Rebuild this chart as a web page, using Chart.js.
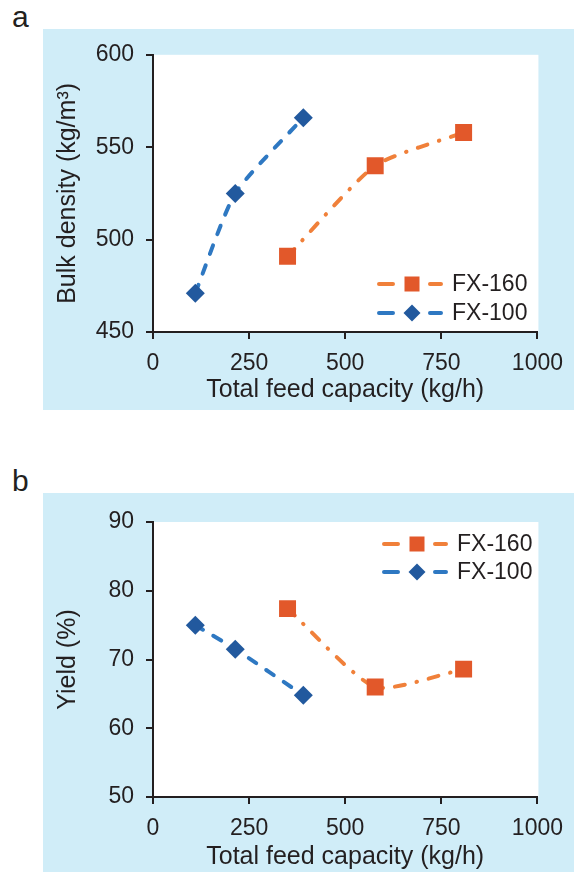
<!DOCTYPE html>
<html>
<head>
<meta charset="utf-8">
<script src="https://cdn.jsdelivr.net/npm/chart.js@4"></script>
<style>
  body { margin: 0; background: #fff; width: 574px; height: 872px; position: relative; overflow: hidden;
         font-family: "Liberation Sans", Arial, sans-serif; color: #231F20; }
  .tag { position: absolute; left: 12px; font-size: 30px; line-height: 1; }
  .panel { position: absolute; left: 43px; width: 531px; background: #D0EDF8; }
</style>
</head>
<body>
<div class="tag" style="top:2px">a</div>
<div class="panel" style="top:29px;height:381px"><canvas id="chartA" width="531" height="381"></canvas></div>
<div class="tag" style="top:466px">b</div>
<div class="panel" style="top:493px;height:379px"><canvas id="chartB" width="531" height="379"></canvas></div>
<script>
// ====================== DATA ======================
const fx160Feed = [350, 578, 808];
const fx160Density = [491, 540, 558];
const fx160Yield = [77.4, 66.0, 68.6];

const fx100Feed = [110, 214, 391];
const fx100Density = [471, 525, 566];
const fx100Yield = [75.0, 71.5, 64.8];

const xTitle = "Total feed capacity (kg/h)";

// ====================== STYLE ======================
const INK = "#231F20";
const FONT = "'Liberation Sans', Arial, sans-serif";
const ORANGE_LINE = "#F0803A", ORANGE_MARK = "#E2582A";
const BLUE_LINE = "#2E78C2", BLUE_MARK = "#22599E";

function pts(xs, ys) {
  return xs.map((x, i) => ({ x: x, y: ys[i] }));
}

function makeSets(ys160, ys100) {
  return [
    {
      label: "FX-160",
      data: pts(fx160Feed, ys160),
      showLine: true,
      borderColor: ORANGE_LINE,
      borderWidth: 4,
      borderDash: [10, 12, 0.5, 12],
      borderCapStyle: "round",
      tension: 0.2,
      pointStyle: "rect",
      pointRadius: 12,
      pointBackgroundColor: ORANGE_MARK,
      pointBorderWidth: 0
    },
    {
      label: "FX-100",
      data: pts(fx100Feed, ys100),
      showLine: true,
      borderColor: BLUE_LINE,
      borderWidth: 4,
      borderDash: [9, 12],
      borderCapStyle: "round",
      tension: 0.2,
      pointStyle: "rectRot",
      pointRadius: 9.5,
      pointBackgroundColor: BLUE_MARK,
      pointBorderWidth: 0
    }
  ];
}

// white plot box
const plotBg = {
  id: "plotBg",
  beforeDraw(chart) {
    const a = chart.chartArea, ctx = chart.ctx;
    ctx.save();
    ctx.fillStyle = "#fff";
    ctx.fillRect(a.left, a.top, a.right - a.left + 1, a.bottom - a.top);
    ctx.restore();
  }
};

// legend drawn as line - marker - line, like the office chart
const lineLegend = {
  id: "lineLegend",
  afterDraw(chart, args, opts) {
    const ctx = chart.ctx;
    chart.data.datasets.forEach((ds, i) => {
      const y = opts.rows[i];
      ctx.save();
      ctx.strokeStyle = ds.borderColor;
      ctx.lineWidth = 4;
      ctx.lineCap = "round";
      ctx.beginPath();
      ctx.moveTo(opts.x + 2, y); ctx.lineTo(opts.x + 16, y);
      ctx.moveTo(opts.x + 53, y); ctx.lineTo(opts.x + 64, y);
      ctx.stroke();
      ctx.fillStyle = ds.pointBackgroundColor;
      const cx = opts.x + 35;
      if (ds.pointStyle === "rect") {
        ctx.fillRect(cx - 7.5, y - 7.5, 15, 15);
      } else {
        ctx.beginPath();
        ctx.moveTo(cx, y - 8.5); ctx.lineTo(cx + 8.5, y);
        ctx.lineTo(cx, y + 8.5); ctx.lineTo(cx - 8.5, y);
        ctx.closePath(); ctx.fill();
      }
      ctx.fillStyle = INK;
      ctx.font = "23px " + FONT;
      ctx.textBaseline = "middle";
      ctx.fillText(ds.label, opts.x + 75, y + 1);
      ctx.restore();
    });
  }
};

function makeChart(id, ys160, ys100, yMin, yMax, yStep, yTitle, pad, xAxisH, xTitlePad, legend) {
  const axisLine = { display: true, color: INK, width: 2 };
  const tickGrid = { drawOnChartArea: false, drawTicks: true, tickLength: 7, color: INK, lineWidth: 2 };
  return new Chart(document.getElementById(id), {
    type: "scatter",
    data: { datasets: makeSets(ys160, ys100) },
    options: {
      responsive: false,
      animation: false,
      layout: { padding: pad },
      plugins: { legend: { display: false }, tooltip: { enabled: false }, lineLegend: legend },
      scales: {
        x: {
          type: "linear", min: 0, max: 1000,
          border: axisLine, grid: tickGrid,
          ticks: { stepSize: 250, color: INK, padding: 11, font: { family: FONT, size: 23 },
                   callback: v => String(v) },
          title: { display: true, text: xTitle, color: INK, padding: { top: 0, bottom: xTitlePad },
                   font: { family: FONT, size: 25 } },
          afterFit(s) { s.height = xAxisH; }
        },
        y: {
          min: yMin, max: yMax,
          border: axisLine, grid: tickGrid,
          ticks: { stepSize: yStep, color: INK, padding: 12, font: { family: FONT, size: 23 } },
          title: { display: true, text: yTitle, color: INK, padding: { top: 10, bottom: 0 },
                   font: { family: FONT, size: 25 } },
          afterFit(s) { s.width = 110; }
        }
      }
    },
    plugins: [plotBg, lineLegend]
  });
}

makeChart("chartA", fx160Density, fx100Density, 450, 600, 50, "Bulk density (kg/m\u00B3)",
  { top: 22, right: 35, bottom: 0, left: 0 }, 78, 5, { x: 334, rows: [255, 284] });

makeChart("chartB", fx160Yield, fx100Yield, 50, 90, 10, "Yield (%)",
  { top: 29, right: 35, bottom: 0, left: 0 }, 75, 0, { x: 339, rows: [51, 79] });
</script>
</body>
</html>
